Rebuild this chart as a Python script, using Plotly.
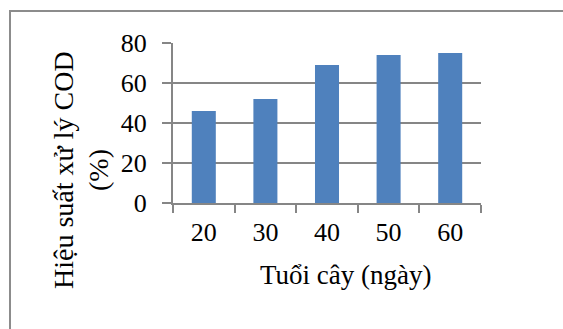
import plotly.graph_objects as go

# COD removal efficiency by plant age
ages = ["20", "30", "40", "50", "60"]
efficiency = [46, 52, 69, 74, 75]
y_ticks = [0, 20, 40, 60, 80]

BAR_COLOR = "#4F81BD"
GRID = "#868686"
FONT = "Times New Roman, Liberation Serif, serif"

W, H = 563, 329
L, R, T, B = 173, 82, 43, 126
pw, ph = W - L - R, H - T - B


def px_to_paper(xp, yp):
    return (xp - L) / pw, (H - B - yp) / ph


fig = go.Figure(
    go.Bar(x=ages, y=efficiency, marker=dict(color=BAR_COLOR, line=dict(width=0)))
)

fig.update_layout(
    width=W,
    height=H,
    margin=dict(l=L, r=R, t=T, b=B, pad=0),
    paper_bgcolor="white",
    plot_bgcolor="white",
    bargap=0.61,
    showlegend=False,
    font=dict(family=FONT, color="black", size=26),
)

fig.update_xaxes(
    type="category",
    tickson="boundaries",
    ticks="outside",
    ticklen=8,
    tickwidth=1.5,
    tickcolor=GRID,
    showline=True,
    linecolor=GRID,
    linewidth=2,
    showgrid=False,
    tickfont=dict(size=26, family=FONT, color="black"),
    ticklabelstandoff=5,
)

fig.update_yaxes(
    range=[0, 80],
    tickvals=y_ticks,
    ticks="outside",
    ticklen=9,
    tickwidth=1.6,
    tickcolor=GRID,
    showline=True,
    linecolor=GRID,
    linewidth=2,
    showgrid=True,
    gridcolor=GRID,
    gridwidth=1.6,
    zeroline=False,
    tickfont=dict(size=26, family=FONT, color="black"),
    ticklabelstandoff=10,
)

# axis titles
ax1, ay1 = px_to_paper(63, 170)
ax2, ay2 = px_to_paper(98, 170)
tx, ty = px_to_paper(345, 275)
fig.add_annotation(x=ax1, y=ay1, xref="paper", yref="paper", text="Hiệu suất xử lý COD",
                   textangle=-90, showarrow=False, font=dict(size=28, family=FONT),
                   xanchor="center", yanchor="middle")
fig.add_annotation(x=ax2, y=ay2, xref="paper", yref="paper", text="(%)",
                   textangle=-90, showarrow=False, font=dict(size=28, family=FONT),
                   xanchor="center", yanchor="middle")
fig.add_annotation(x=tx, y=ty, xref="paper", yref="paper", text="Tuổi cây (ngày)",
                   showarrow=False, font=dict(size=27, family=FONT),
                   xanchor="center", yanchor="middle")

# chart frame (top and left edges visible)
fx0, fy0 = px_to_paper(10, 11)
fig.add_shape(type="rect", xref="paper", yref="paper",
              x0=fx0, y0=-1.0, x1=1.6, y1=fy0,
              line=dict(color="#8C8C8C", width=2), fillcolor="rgba(0,0,0,0)", layer="below")

fig.write_html("out.html")
